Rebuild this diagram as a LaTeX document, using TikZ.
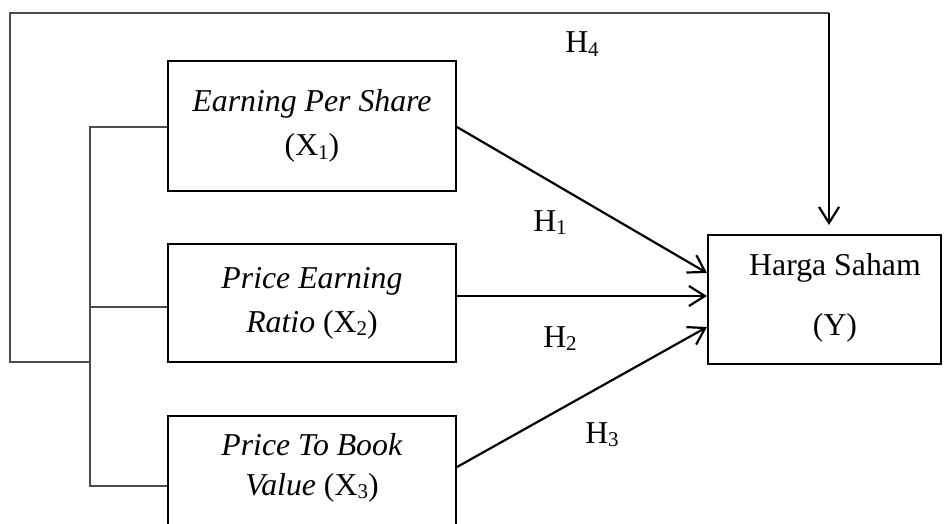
\documentclass[tikz,border=0pt]{standalone}
\usepackage{fontspec}
\setmainfont{Liberation Serif}
\usetikzlibrary{arrows.meta}
\newcommand{\lowsub}[1]{\raisebox{-0.12em}{\fontsize{21}{21}\selectfont #1}}
\begin{document}
\begin{tikzpicture}[x=1pt,y=-1pt,
  box/.style={draw=black,line width=2pt,align=center,inner sep=0pt,
    font=\fontsize{31.8}{44}\selectfont},
  link/.style={draw=black!70,line width=1.3pt},
  arr/.style={draw=black,line width=2.2pt,-{Straight Barb[length=16pt,width=20pt,line width=2.2pt]}},
  hlab/.style={font=\fontsize{31.8}{38}\selectfont,inner sep=0pt,anchor=base}]
\useasboundingbox (0,0) rectangle (950,524);
\begin{scope}
\clip (0,0) rectangle (950,524);
\node[box,minimum width=288pt,minimum height=130pt] (b1) at (312,126) {\textit{Earning Per Share}\\(X\lowsub{1})};
\node[box,minimum width=288pt,minimum height=118pt] (b2) at (312,303) {\textit{Price Earning}\\\textit{Ratio} (X\lowsub{2})};
\node[box,minimum width=288pt,minimum height=128pt] (b3) at (312,480) {};
\node[box,minimum width=233pt,minimum height=129pt] (yv) at (824.5,299.5) {};
\end{scope}
\node[hlab] (t3a) at (312,455) {\textit{Price To Book}};
\node[hlab] (t3b) at (312,495) {\textit{Value} (X\lowsub{3})};
\node[hlab] (ty1) at (835,275) {Harga Saham};
\node[hlab] (ty2) at (835,335) {(Y)};
% bracket
\coordinate (k1) at (90,127);
\coordinate (k2) at (90,307);
\coordinate (k3) at (90,486);
\coordinate (kb) at (90,362);
\coordinate (o1) at (10,362);
\coordinate (o2) at (10,13);
\coordinate (o3) at (829,13);
\draw[link] (b1.west |- k1) -- (k1) -- (k3) -- (b3.west |- k3);
\draw[link] (k2) -- (b2.west |- k2);
\draw[link] (kb) -- (o1) -- (o2) -- (o3);
% arrows
\draw[arr,shorten >=9pt] (o3) -- (o3 |- yv.north) ;
\draw[arr] (b1.east |- 0,127) -- (yv.west |- 0,273);
\draw[arr] (b2.east |- 0,296) -- (yv.west |- 0,296);
\draw[arr] (b3.east |- 0,467) -- (yv.west |- 0,327);
% labels
\node[hlab] (h1) at (550,231) {H\lowsub{1}};
\node[hlab] (h2) at (560,347) {H\lowsub{2}};
\node[hlab] (h3) at (602,443) {H\lowsub{3}};
\node[hlab] (h4) at (582,53) {H\lowsub{4}};
\end{tikzpicture}
\end{document}
